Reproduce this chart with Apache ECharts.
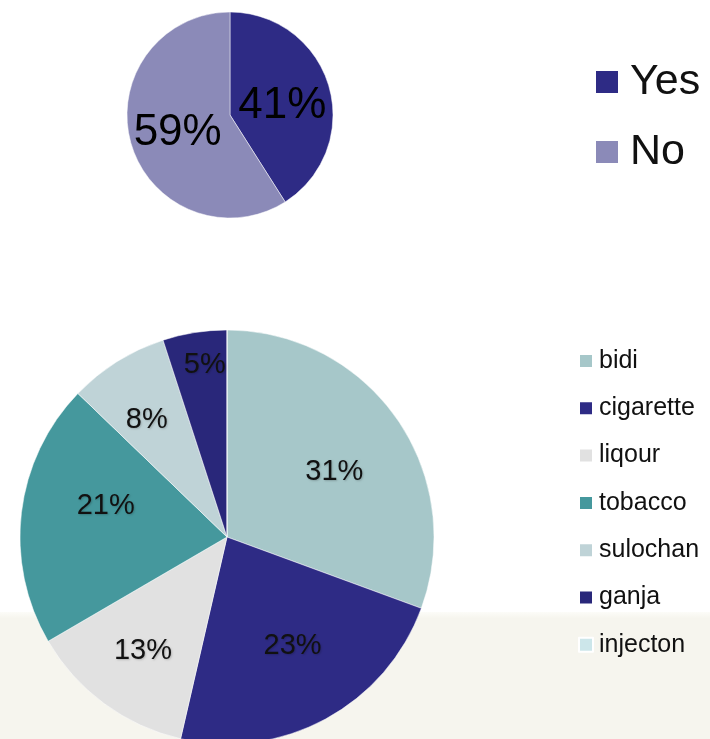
<!DOCTYPE html>
<html><head><meta charset="utf-8">
<script src="https://cdn.jsdelivr.net/npm/echarts@6/dist/echarts.min.js"></script>
<style>html,body{margin:0;padding:0;background:#fff}#c{width:710px;height:739px}</style>
</head><body><div id="c"></div>
<script>
const topNames = ['Yes', 'No'];
const topValues = [41, 59];
const topColors = ['#2E2B85', '#8B8AB8'];

const subNames = ['bidi', 'cigarette', 'liqour', 'tobacco', 'sulochan', 'ganja', 'injecton'];
const subValues = [30.6, 23.0, 13.0, 20.6, 7.8, 5.0, 0];
const subColors = ['#A6C7C9', '#2E2B85', '#E1E1E1', '#45989D', '#BFD3D7', '#29277A', '#CCE6EA'];

const chart = echarts.init(document.getElementById('c'));
const R = 207;
const center2 = [227, 537];
// small best-fit nudges of the inside labels (label placement only)
const nudge = {0: [3, 8], 1: [5, -3], 3: [5, -16], 4: [-5, 3], 5: [5, 0]};

function labelSeries(outer, members) {
  return {
    type: 'pie', silent: true, center: center2, radius: [0, outer],
    startAngle: 90, clockwise: true, z: 5,
    itemStyle: {color: 'transparent', borderWidth: 0},
    emphasis: {disabled: true},
    label: {
      position: 'inside', color: '#111', fontFamily: 'Liberation Sans', fontSize: 29,
      textShadowColor: 'rgba(0,0,0,0.2)', textShadowBlur: 2, textShadowOffsetX: 1, textShadowOffsetY: 1,
      formatter: p => (members.indexOf(p.dataIndex) >= 0 && p.value > 0) ? Math.round(p.value) + '%' : ''
    },
    labelLayout: p => {
      const n = nudge[p.dataIndex];
      return n ? {dx: n[0], dy: n[1]} : {};
    },
    labelLine: {show: false},
    data: subNames.map((n, i) => ({name: n, value: subValues[i]}))
  };
}

chart.setOption({
  animation: false,
  graphic: [{
    type: 'rect', z: -10, silent: true,
    shape: {x: 0, y: 612, width: 710, height: 127},
    style: {fill: new echarts.graphic.LinearGradient(0, 0, 0, 1, [
      {offset: 0, color: '#FCFCF8'}, {offset: 0.05, color: '#F6F5EE'}, {offset: 1, color: '#F6F5EE'}])}
  }],
  legend: [{
    data: topNames, orient: 'vertical', left: 589, top: 55, itemGap: 26,
    itemWidth: 24, itemHeight: 24, icon: 'rect',
    textStyle: {fontSize: 43, lineHeight: 44, fontFamily: 'Liberation Sans', color: '#111', padding: [0, 0, 0, 6]},
    selectedMode: false
  }, {
    data: subNames, orient: 'vertical', left: 573, top: 343, itemGap: 21.3,
    itemWidth: 14, itemHeight: 14, icon: 'rect',
    textStyle: {fontSize: 25, lineHeight: 26, fontFamily: 'Liberation Sans', color: '#111', padding: [0, 0, 0, 1]},
    selectedMode: false
  }],
  series: [{
    type: 'pie', center: [230, 115], radius: [0, 103], startAngle: 90, clockwise: true,
    itemStyle: {borderColor: '#fff', borderWidth: 0.5},
    emphasis: {disabled: true},
    label: {position: 'inside', fontSize: 44, fontFamily: 'Liberation Sans', color: '#000',
      formatter: p => p.value + '%'},
    labelLayout: p => ({dy: p.dataIndex === 0 ? 6 : 3}),
    labelLine: {show: false},
    data: topNames.map((n, i) => ({name: n, value: topValues[i], itemStyle: {color: topColors[i]}}))
  }, {
    type: 'pie', center: center2, radius: [0, R], startAngle: 90, clockwise: true,
    itemStyle: {borderColor: '#fff', borderWidth: 0.5},
    emphasis: {disabled: true},
    label: {show: false}, labelLine: {show: false},
    data: subNames.map((n, i) => ({name: n, value: subValues[i], itemStyle: {color: subColors[i]}}))
  },
    labelSeries(R * 1.20, [0, 1, 3]),
    labelSeries(R * 1.34, [2, 4]),
    labelSeries(R * 1.65, [5])
  ]
});
</script></body></html>
